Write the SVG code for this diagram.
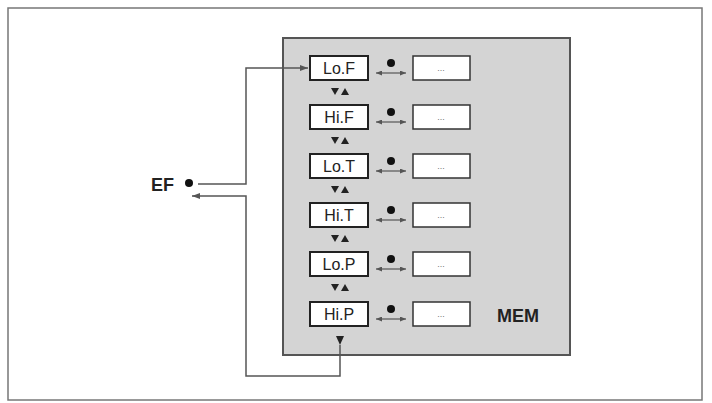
<svg xmlns="http://www.w3.org/2000/svg" width="712" height="403" viewBox="0 0 712 403">
<defs>
<marker id="ah" markerWidth="8" markerHeight="6" refX="8" refY="3" orient="auto" markerUnits="userSpaceOnUse"><path d="M0,0 L8,3 L0,6 Z" fill="#555"/></marker>
<marker id="as" markerWidth="6" markerHeight="5" refX="6" refY="2.5" orient="auto-start-reverse" markerUnits="userSpaceOnUse"><path d="M0,0 L6,2.5 L0,5 Z" fill="#555"/></marker>
<g id="row">
<rect x="310" y="-12" width="58" height="24" fill="#fff" stroke="#222" stroke-width="2"/>
<rect x="413" y="-12" width="57" height="24" fill="#fff" stroke="#333" stroke-width="1.5"/>
<text x="441" y="3" font-size="9" fill="#777" text-anchor="middle" font-family="Liberation Sans, sans-serif">...</text>
<circle cx="391" cy="-5" r="4" fill="#111"/>
<line x1="376" y1="5" x2="406" y2="5" stroke="#555" stroke-width="1.2" marker-start="url(#as)" marker-end="url(#as)"/>
</g>
<g id="ud"><path d="M331,88 L339,88 L335,95 Z" fill="#222"/><path d="M341,95 L349,95 L345,88 Z" fill="#222"/></g>
</defs>
<style>.lb{font-family:"Liberation Sans",sans-serif;font-size:16px;fill:#222;text-anchor:middle}.b{font-family:"Liberation Sans",sans-serif;font-weight:bold;font-size:18px;fill:#222}</style>
<rect x="8" y="8" width="694" height="392" fill="#fff" stroke="#777" stroke-width="1.5"/>
<rect id="mem" x="283" y="38" width="287" height="317" fill="#d4d4d4" stroke="#555" stroke-width="2"/>
<g id="nodes">
<g id="LoF"><use href="#row" y="68"/><text class="lb" x="339" y="74">Lo.F</text></g>
<g id="HiF"><use href="#row" y="117"/><text class="lb" x="339" y="123">Hi.F</text></g>
<g id="LoT"><use href="#row" y="166"/><text class="lb" x="339" y="172">Lo.T</text></g>
<g id="HiT"><use href="#row" y="215"/><text class="lb" x="339" y="221">Hi.T</text></g>
<g id="LoP"><use href="#row" y="264"/><text class="lb" x="339" y="270">Lo.P</text></g>
<g id="HiP"><use href="#row" y="314"/><text class="lb" x="339" y="320">Hi.P</text></g>
<use href="#ud" y="0"/><use href="#ud" y="49"/><use href="#ud" y="98"/><use href="#ud" y="147"/><use href="#ud" y="196"/>
<path d="M336,336 L344,336 L340,345 Z" fill="#222"/>
<g id="EF"><text class="b" x="151" y="191">EF</text><circle cx="189" cy="183" r="4" fill="#111"/></g>
<text class="b" x="497" y="322">MEM</text>
</g>
<g id="connectors" fill="none" stroke="#555" stroke-width="1.5">
<polyline points="198,184 246,184 246,68 308,68" marker-end="url(#ah)"/>
<polyline points="340,345 340,376 246,376 246,196 192,196" marker-end="url(#ah)"/>
</g>
</svg>
